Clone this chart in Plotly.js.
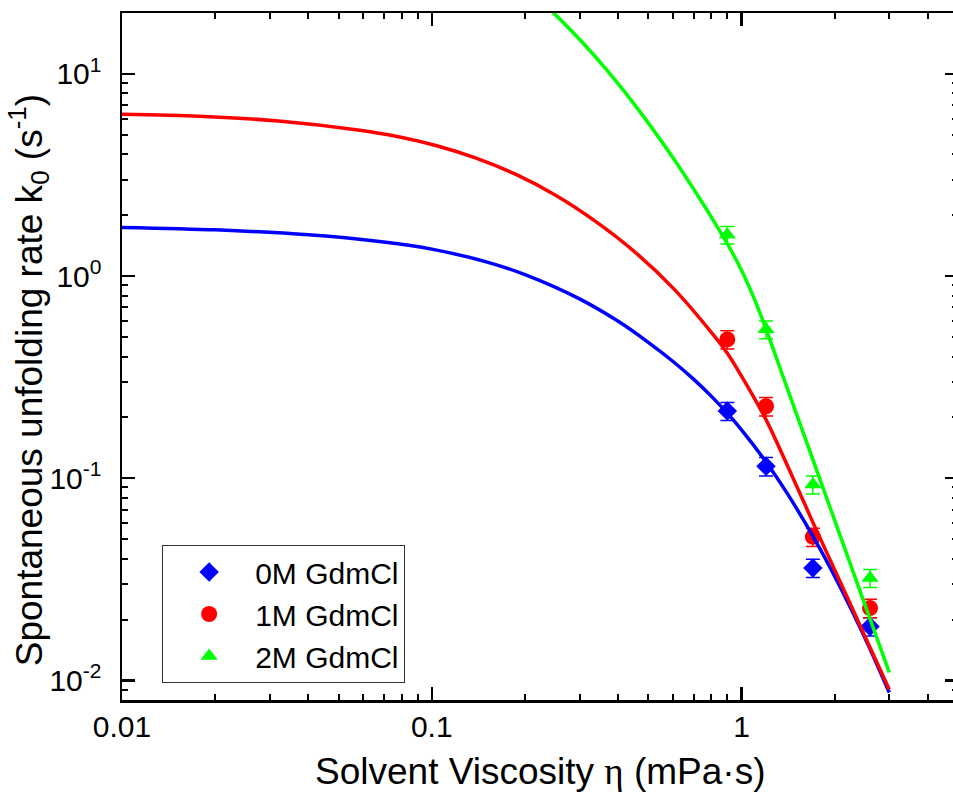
<!DOCTYPE html>
<html>
<head>
<meta charset="utf-8">
<script src="https://cdn.plot.ly/plotly-3.0.1.min.js"></script>
<style>
  html, body { margin: 0; padding: 0; overflow: hidden; background: #fff; }
  #chart { width: 960px; height: 792px; }
</style>
</head>
<body>
<div id="chart"></div>
<script>
// ---- measured data ----
const viscosity = [0.9, 1.2, 1.7, 2.6];

const k0_0M = [0.215, 0.1146, 0.036, 0.0185];
const err_0M = [0.022, 0.012, 0.0037, 0.0019];
const k0_1M = [0.486, 0.227, 0.0513, 0.0228];
const err_1M = [0.05, 0.024, 0.0053, 0.0024];
const k0_2M = [1.6, 0.545, 0.093, 0.0321];
const err_2M = [0.16, 0.055, 0.0095, 0.0033];

// ---- fitted curves ----
const fit0M_x = [0.01, 0.02, 0.04, 0.07, 0.1, 0.15, 0.2, 0.3, 0.4, 0.5, 0.6, 0.7, 0.8, 0.9, 1.0, 1.2, 1.4, 1.7, 2.0, 2.3, 2.6, 3.0];
const fit0M_y = [1.74, 1.692, 1.600, 1.474, 1.359, 1.176, 1.016, 0.771, 0.597, 0.470, 0.379, 0.309, 0.254, 0.2097, 0.1734, 0.1204, 0.0849, 0.0517, 0.0327, 0.0213, 0.0143, 0.00871];

const fit1M_x = [0.01, 0.0177, 0.032, 0.0577, 0.0774, 0.1038, 0.139, 0.187, 0.251, 0.337, 0.452, 0.607, 0.815, 0.9, 1.0, 1.2, 1.5, 1.7, 2.18, 2.60, 3.0];
const fit1M_y = [6.31, 6.17, 5.85, 5.28, 4.90, 4.41, 3.83, 3.18, 2.51, 1.87, 1.318, 0.859, 0.507, 0.415, 0.32, 0.195, 0.0929, 0.0605, 0.0264, 0.01455, 0.00902];

const fit2M_x = [0.22, 0.246, 0.301, 0.366, 0.447, 0.520, 0.607, 0.733, 0.813, 0.904, 1.0, 1.099, 1.205, 1.371, 1.581, 1.791, 2.018, 2.291, 2.600, 3.0];
const fit2M_y = [23.7, 20.2, 14.74, 10.51, 7.19, 5.27, 3.76, 2.417, 1.873, 1.428, 1.068, 0.773, 0.5375, 0.3097, 0.1685, 0.0990, 0.0595, 0.0346, 0.02014, 0.01094];

const seriesNames = ['0M GdmCl', '1M GdmCl', '2M GdmCl'];
const colors = ['#0000FF', '#FF0000', '#00FF00'];
const symbols = ['diamond', 'circle', 'triangle-up'];
const markerSizes = [15, 16, 15];

const yTickVals = [0.01, 0.1, 1, 10];
const yTickText = ['10<sup>-2</sup>', '10<sup>-1</sup>', '10<sup>0</sup>', '10<sup>1</sup>'];
const xTickVals = [0.01, 0.1, 1];
const xTickText = ['0.01', '0.1', '1'];
const xMinor = [0.02,0.03,0.04,0.05,0.06,0.07,0.08,0.09,0.2,0.3,0.4,0.5,0.6,0.7,0.8,0.9,2,3,4];
const yMinor = [0.009,0.02,0.03,0.04,0.05,0.06,0.07,0.08,0.09,0.2,0.3,0.4,0.5,0.6,0.7,0.8,0.9,2,3,4,5,6,7,8,9,20];

const pts = [k0_0M, k0_1M, k0_2M];
const errs = [err_0M, err_1M, err_2M];
const fitsX = [fit0M_x, fit1M_x, fit2M_x];
const fitsY = [fit0M_y, fit1M_y, fit2M_y];

const FONT = 'Arial, "Liberation Sans", sans-serif';
const traces = [];
for (let i = 0; i < 3; i++) {
  traces.push({
    x: viscosity, y: pts[i], type: 'scatter', mode: 'markers', name: seriesNames[i],
    marker: { symbol: symbols[i], size: markerSizes[i], color: colors[i], line: { width: 0 } },
    error_y: { type: 'data', array: errs[i], visible: true, color: colors[i], thickness: 1.5, width: 7 },
    cliponaxis: true
  });
}
for (let i = 0; i < 3; i++) {
  traces.push({
    x: fitsX[i], y: fitsY[i], type: 'scatter', mode: 'lines', showlegend: false,
    line: { color: colors[i], width: 3.5, shape: 'spline', smoothing: 0.8 },
    hoverinfo: 'skip'
  });
}

const axisCommon = {
  type: 'log', showgrid: false, zeroline: false,
  showline: true, linecolor: '#000', linewidth: 2.5, mirror: 'allticks',
  ticks: 'inside', ticklen: 13, tickwidth: 2.5, tickcolor: '#000',
  tickfont: { family: FONT, size: 30, color: '#000' },
  tickmode: 'array'
};

const layout = {
  width: 960, height: 792,
  margin: { l: 122, r: 2, t: 13, b: 92 },
  paper_bgcolor: '#fff', plot_bgcolor: '#fff',
  font: { family: FONT, color: '#000' },
  showlegend: true,
  legend: {
    x: 0.048, y: 0.2256, xanchor: 'left', yanchor: 'top',
    bgcolor: '#fff', bordercolor: '#333', borderwidth: 1,
    font: { family: FONT, size: 30, color: '#000' },
    itemwidth: 82, tracegroupgap: 0
  },
  xaxis: Object.assign({}, axisCommon, {
    range: [-2, Math.log10(5)],
    tickvals: xTickVals, ticktext: xTickText,
    ticklabelstandoff: -2,
    minor: { tickmode: 'array', tickvals: xMinor, ticks: 'inside', ticklen: 6, tickwidth: 2, tickcolor: '#000', showgrid: false }
  }),
  yaxis: Object.assign({}, axisCommon, {
    range: [Math.log10(0.008), Math.log10(20)],
    tickvals: yTickVals, ticktext: yTickText,
    ticklabelstandoff: 12,
    minor: { tickmode: 'array', tickvals: yMinor, ticks: 'inside', ticklen: 6, tickwidth: 2, tickcolor: '#000', showgrid: false }
  }),
  annotations: [
    {
      text: 'Solvent Viscosity <span style="font-family:Liberation Serif">η</span> (mPa·s)',
      xref: 'paper', yref: 'paper', x: 0.5, y: -0.1046, xanchor: 'center', yanchor: 'middle',
      showarrow: false, font: { family: FONT, size: 37, color: '#000' }
    },
    {
      text: 'Spontaneous unfolding rate k<sub>0</sub> (s<sup>-1</sup>)',
      xref: 'paper', yref: 'paper', x: -0.1116, y: 0.465, xanchor: 'center', yanchor: 'middle',
      textangle: -90, showarrow: false, font: { family: FONT, size: 37, color: '#000' }
    }
  ]
};

Plotly.newPlot('chart', traces, layout, { displayModeBar: false, staticPlot: true });
</script>
</body>
</html>
